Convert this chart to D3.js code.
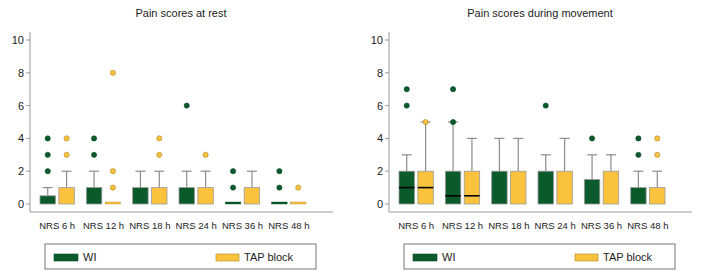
<!DOCTYPE html>
<html>
<head>
<meta charset="utf-8">
<script src="https://cdn.jsdelivr.net/npm/d3@7"></script>
<style>
  body { margin: 0; background: #fff; }
  text { font-family: "Liberation Sans", Arial, sans-serif; fill: #222; }
</style>
</head>
<body>
<div id="chart"></div>
<script>
const categories = ["NRS 6 h", "NRS 12 h", "NRS 18 h", "NRS 24 h", "NRS 36 h", "NRS 48 h"];
const groups = ["WI", "TAP block"];
const yTicks = [0, 2, 4, 6, 8, 10];

// each box: [q1, median, q3, whiskerHigh, outliers, showMedian, capDot]
const restWI = [
  [0, 0, 0.5, 1, [2, 3, 4], false, false],
  [0, 0, 1, 2, [3, 4], false, false],
  [0, 0, 1, 2, [], false, false],
  [0, 0, 1, 2, [6], false, false],
  [0, 0, 0, 0, [1, 2], false, false],
  [0, 0, 0, 0, [1, 2], false, false]
];
const restTAP = [
  [0, 0, 1, 2, [3, 4], false, false],
  [0, 0, 0, 0, [1, 2, 8], false, false],
  [0, 0, 1, 2, [3, 4], false, false],
  [0, 0, 1, 2, [3], false, false],
  [0, 0, 1, 2, [], false, false],
  [0, 0, 0, 0, [1], false, false]
];
const moveWI = [
  [0, 1, 2, 3, [6, 7], true, false],
  [0, 0.5, 2, 5, [7], true, true],
  [0, 0, 2, 4, [], false, false],
  [0, 0, 2, 3, [6], false, false],
  [0, 0, 1.5, 3, [4], false, false],
  [0, 0, 1, 2, [3, 4], false, false]
];
const moveTAP = [
  [0, 1, 2, 5, [], true, true],
  [0, 0.5, 2, 4, [], true, false],
  [0, 0, 2, 4, [], false, false],
  [0, 0, 2, 4, [], false, false],
  [0, 0, 2, 3, [], false, false],
  [0, 0, 1, 2, [3, 4], false, false]
];

const colors = { "WI": "#0b5a2c", "TAP block": "#fbc33d" };
const outlines = { "WI": "#0b4a24", "TAP block": "#a8862a" };

const svg = d3.select("#chart").append("svg")
  .attr("width", 701).attr("height", 279);

function panel(x0, title, wiData, tapData) {
  const g = svg.append("g");
  const axisColor = "#9a9a9a";
  const y = d3.scaleLinear().domain([0, 10]).range([204, 40]);
  const x = d3.scaleBand().domain(categories).range([x0 + 4, x0 + 282]);
  const sub = d3.scaleBand().domain(groups)
    .range([6, x.bandwidth() - 6]).paddingInner(0.18);

  g.append("text").attr("x", x0 + 151).attr("y", 17)
    .attr("text-anchor", "middle").style("font-size", "11px").text(title);

  // axes lines
  g.append("line").attr("x1", x0).attr("x2", x0).attr("y1", 32).attr("y2", 212)
    .attr("stroke", axisColor);
  g.append("line").attr("x1", x0).attr("x2", x0 + 303).attr("y1", 212).attr("y2", 212)
    .attr("stroke", axisColor);

  yTicks.forEach(t => {
    g.append("line").attr("x1", x0 - 4).attr("x2", x0).attr("y1", y(t)).attr("y2", y(t))
      .attr("stroke", axisColor);
    g.append("text").attr("x", x0 - 6).attr("y", y(t) + 4)
      .attr("text-anchor", "end").style("font-size", "11px").text(t);
  });

  categories.forEach(c => {
    g.append("text").attr("x", x(c) + x.bandwidth() / 2).attr("y", 229)
      .attr("text-anchor", "middle").style("font-size", "9.5px").text(c);
  });

  const series = [["WI", wiData], ["TAP block", tapData]];
  series.forEach(([name, data]) => {
    data.forEach((d, i) => {
      const [q1, med, q3, hi, outs, showMed, capDot] = d;
      const bx = x(categories[i]) + sub(name);
      const bw = sub.bandwidth();
      const cx = bx + bw / 2;
      if (hi > q3) {
        g.append("line").attr("x1", cx).attr("x2", cx).attr("y1", y(q3)).attr("y2", y(hi))
          .attr("stroke", "#8c8c8c").attr("stroke-width", 1.2);
        g.append("line").attr("x1", cx - 5).attr("x2", cx + 5).attr("y1", y(hi)).attr("y2", y(hi))
          .attr("stroke", "#8c8c8c").attr("stroke-width", 1.2);
      }
      if (q3 > q1) {
        g.append("rect").attr("x", bx).attr("y", y(q3)).attr("width", bw)
          .attr("height", y(q1) - y(q3)).attr("fill", colors[name])
          .attr("stroke", "#9a9a9a").attr("stroke-width", 0.8);
      } else {
        g.append("rect").attr("x", bx).attr("y", y(q1) - 2).attr("width", bw)
          .attr("height", 2).attr("fill", colors[name]).attr("stroke", outlines[name])
          .attr("stroke-width", 0.4);
      }
      if (showMed) {
        g.append("line").attr("x1", bx).attr("x2", bx + bw).attr("y1", y(med)).attr("y2", y(med))
          .attr("stroke", "#000").attr("stroke-width", 1.6);
      }
      const pts = capDot ? outs.concat([hi]) : outs;
      pts.forEach(o => {
        g.append("circle").attr("cx", cx).attr("cy", y(o)).attr("r", 2.6)
          .attr("fill", colors[name]).attr("stroke", outlines[name]).attr("stroke-width", 0.6);
      });
    });
  });

  // legend
  const lg = g.append("g");
  lg.append("rect").attr("x", x0 + 15).attr("y", 244).attr("width", 271).attr("height", 25)
    .attr("fill", "none").attr("stroke", "#555").attr("stroke-width", 0.8);
  lg.append("rect").attr("x", x0 + 24).attr("y", 254).attr("width", 24).attr("height", 7)
    .attr("fill", colors["WI"]).attr("stroke", outlines["WI"]).attr("stroke-width", 0.6);
  lg.append("text").attr("x", x0 + 53).attr("y", 261).style("font-size", "11px").text("WI");
  lg.append("rect").attr("x", x0 + 186).attr("y", 254).attr("width", 23).attr("height", 7)
    .attr("fill", colors["TAP block"]).attr("stroke", outlines["TAP block"]).attr("stroke-width", 0.6);
  lg.append("text").attr("x", x0 + 214).attr("y", 261).style("font-size", "11px").text("TAP block");
}

panel(30, "Pain scores at rest", restWI, restTAP);
panel(389, "Pain scores during movement", moveWI, moveTAP);
</script>
</body>
</html>
